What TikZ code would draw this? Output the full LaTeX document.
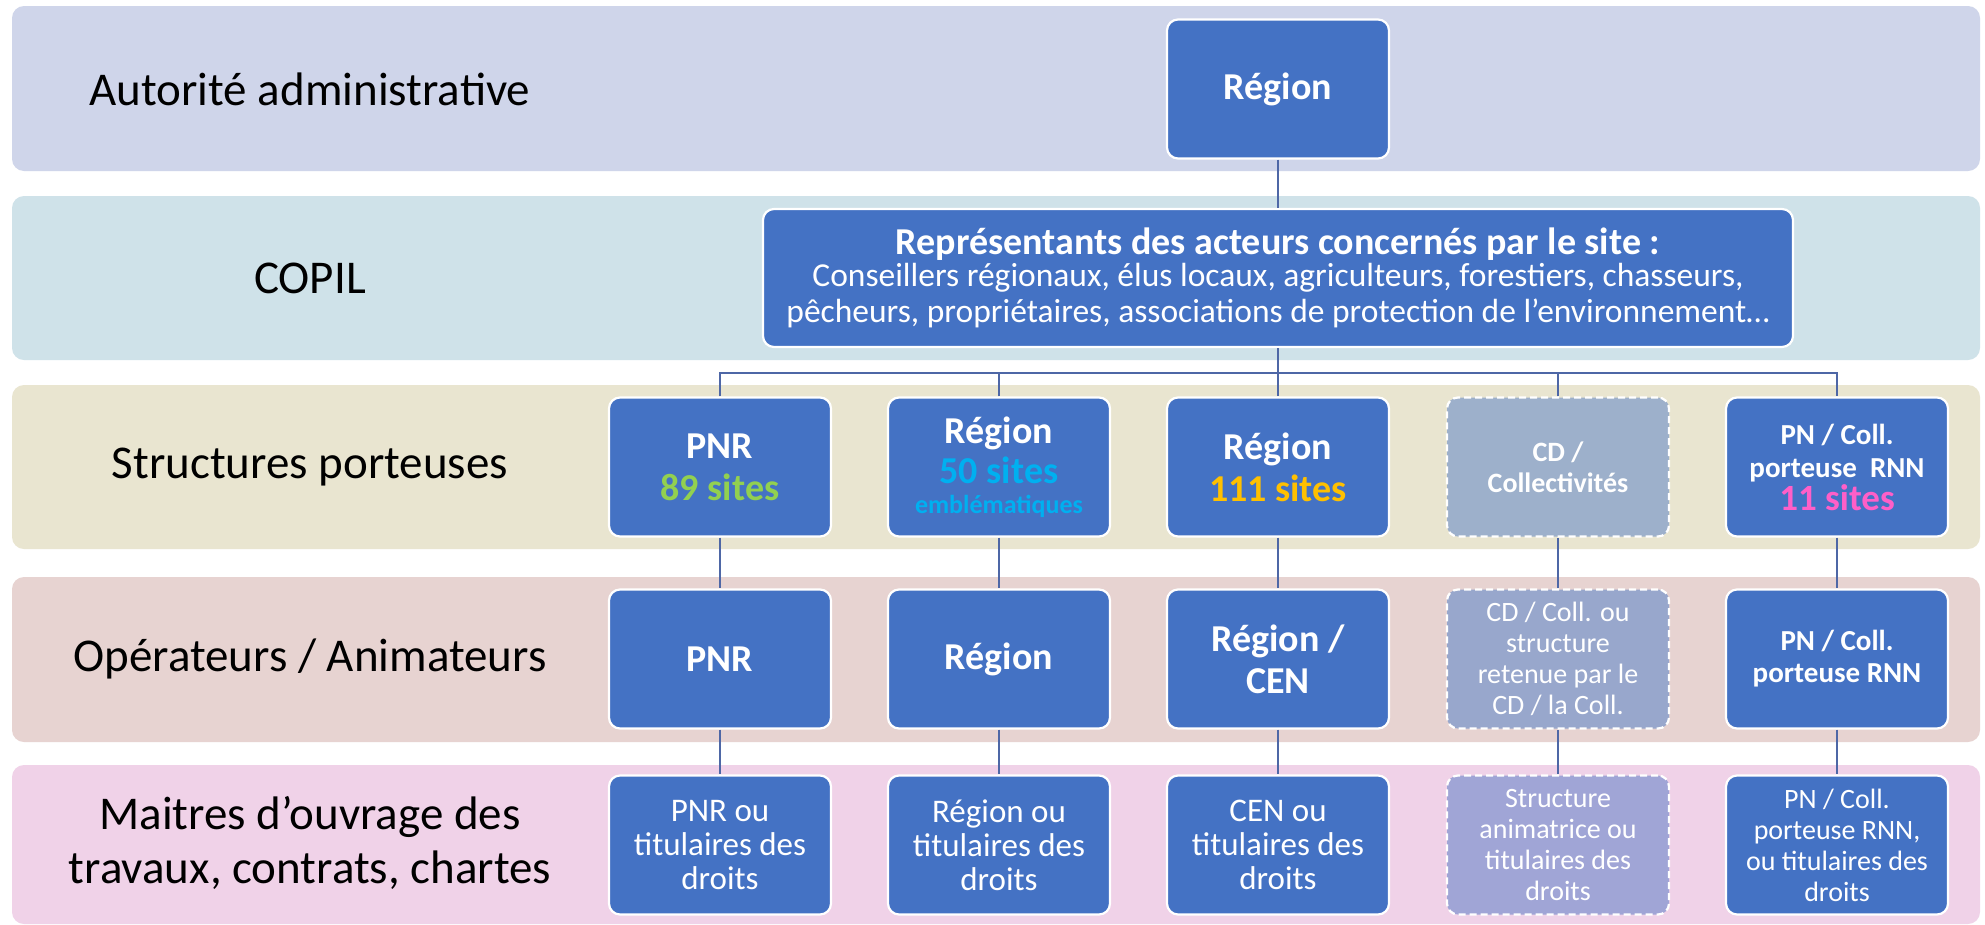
\documentclass[tikz,border=0pt]{standalone}
\usepackage{fontspec}
\setmainfont{Carlito}
\definecolor{bandA}{HTML}{CFD5EA}
\definecolor{bandB}{HTML}{CFE2E9}
\definecolor{bandC}{HTML}{E9E5D0}
\definecolor{bandD}{HTML}{E7D3D1}
\definecolor{bandE}{HTML}{F0D2E8}
\definecolor{boxblue}{HTML}{4472C4}
\definecolor{cdA}{HTML}{9DB0CB}
\definecolor{cdB}{HTML}{98A7CC}
\definecolor{cdC}{HTML}{A0A5D6}
\definecolor{linecol}{HTML}{4E67A6}
\definecolor{sgreen}{HTML}{92D050}
\definecolor{scyan}{HTML}{00B0F0}
\definecolor{sgold}{HTML}{FFC000}
\definecolor{spink}{HTML}{FF5FC8}
\newcommand{\fsz}[2]{\fontsize{#1}{#2}\selectfont}

\begin{document}
\begin{tikzpicture}[x=1pt, y=-1pt,
	box/.style={rectangle, rounded corners=11pt, fill=boxblue, draw=white, line width=2.2pt,
		minimum width=222pt, minimum height=139pt, align=center, text=white, inner sep=0pt,
		font=\fsz{38}{42}\bfseries},
	dashbox/.style={box, dashed, dash pattern=on 7pt off 4pt},
	lbl/.style={align=center, font=\fsz{47}{54}},
	link/.style={draw=linecol, line width=2pt}]
	%%%%% START %%%%%
	
	\useasboundingbox[fill=white] (0,0) rectangle (1985,924);
	
	\fill[bandA, rounded corners=12pt] (12,6) rectangle (1980,171);
	\fill[bandB, rounded corners=12pt] (12,196) rectangle (1980,360);
	\fill[bandC, rounded corners=12pt] (12,385) rectangle (1980,549);
	\fill[bandD, rounded corners=12pt] (12,577) rectangle (1980,742);
	\fill[bandE, rounded corners=12pt] (12,765) rectangle (1980,924);
	
	\node[lbl] (l1) at (310, 89) {Autorité administrative};
	\node[lbl] (l2) at (310, 278) {COPIL};
	\node[lbl] (l3) at (310, 467) {Structures porteuses};
	\node[lbl] (l4) at (310, 659) {Opérateurs / Animateurs};
	\node[lbl] (l5) at (310, 843) {Maitres d’ouvrage des\\travaux, contrats, chartes};
	
	\node[box] (reg) at (1278, 89) {Région};
	
	\node[box, minimum width=1030pt, minimum height=138pt, font=\fsz{33.5}{36}] (copil) at (1278, 278)
		{{\fsz{38}{40}\bfseries Représentants des acteurs concernés par le site :}\\[-4pt]
		Conseillers régionaux, élus locaux, agriculteurs, forestiers, chasseurs,\\
		pêcheurs, propriétaires, associations de protection de l'environnement…};
	
	\node[box] (s1) at (720, 467) {PNR\\{\color{sgreen}89 sites}};
	\node[box] (s2) at (999, 467) {Région\\[-2pt]{\color{scyan}50 sites}\\[-12pt]{\fsz{26}{28}\color{scyan}emblématiques}};
	\node[box] (s3) at (1278, 467) {Région\\{\color{sgold}111 sites}};
	\node[dashbox, fill=cdA, font=\fsz{28}{31}\bfseries] (s4) at (1558, 467) {CD /\\Collectivités};
	\node[box, font=\fsz{29}{33}\bfseries] (s5) at (1837, 467) {PN / Coll.\\porteuse\ \ RNN\\{\fsz{37}{40}\color{spink}11 sites}};
	
	\node[box] (o1) at (720, 659) {PNR};
	\node[box] (o2) at (999, 659) {Région};
	\node[box] (o3) at (1278, 659) {Région /\\CEN};
	\node[dashbox, fill=cdB, font=\fsz{28}{31}] (o4) at (1558, 659) {CD / Coll. ou\\structure\\retenue par le\\CD / la Coll.};
	\node[box, font=\fsz{29}{32}\bfseries] (o5) at (1837, 659) {PN / Coll.\\porteuse RNN};
	
	\node[box, font=\fsz{33}{34}] (m1) at (720, 845) {PNR ou\\titulaires des\\droits};
	\node[box, font=\fsz{33}{34}] (m2) at (999, 845) {Région ou\\titulaires des\\droits};
	\node[box, font=\fsz{33}{34}] (m3) at (1278, 845) {CEN ou\\titulaires des\\droits};
	\node[dashbox, fill=cdC, font=\fsz{28}{31}] (m4) at (1558, 845) {Structure\\animatrice ou\\titulaires des\\droits};
	\node[box, font=\fsz{28}{31}] (m5) at (1837, 845) {PN / Coll.\\porteuse RNN,\\ou titulaires des\\droits};
	
	\coordinate (bar) at (0, 373);
	\draw[link] (reg.south) -- (copil.north);
	\draw[link] (copil.south) -- (s3.north);
	\draw[link] (s1.north) -- (s1.north |- bar) -- (s5.north |- bar) -- (s5.north);
	\draw[link] (s2.north) -- (s2.north |- bar);
	\draw[link] (s4.north) -- (s4.north |- bar);
	\foreach \i in {1,...,5} {
		\draw[link] (s\i.south) -- (o\i.north);
		\draw[link] (o\i.south) -- (m\i.north);
	}
	
	%%%%% END %%%%%
\end{tikzpicture}
\end{document}
